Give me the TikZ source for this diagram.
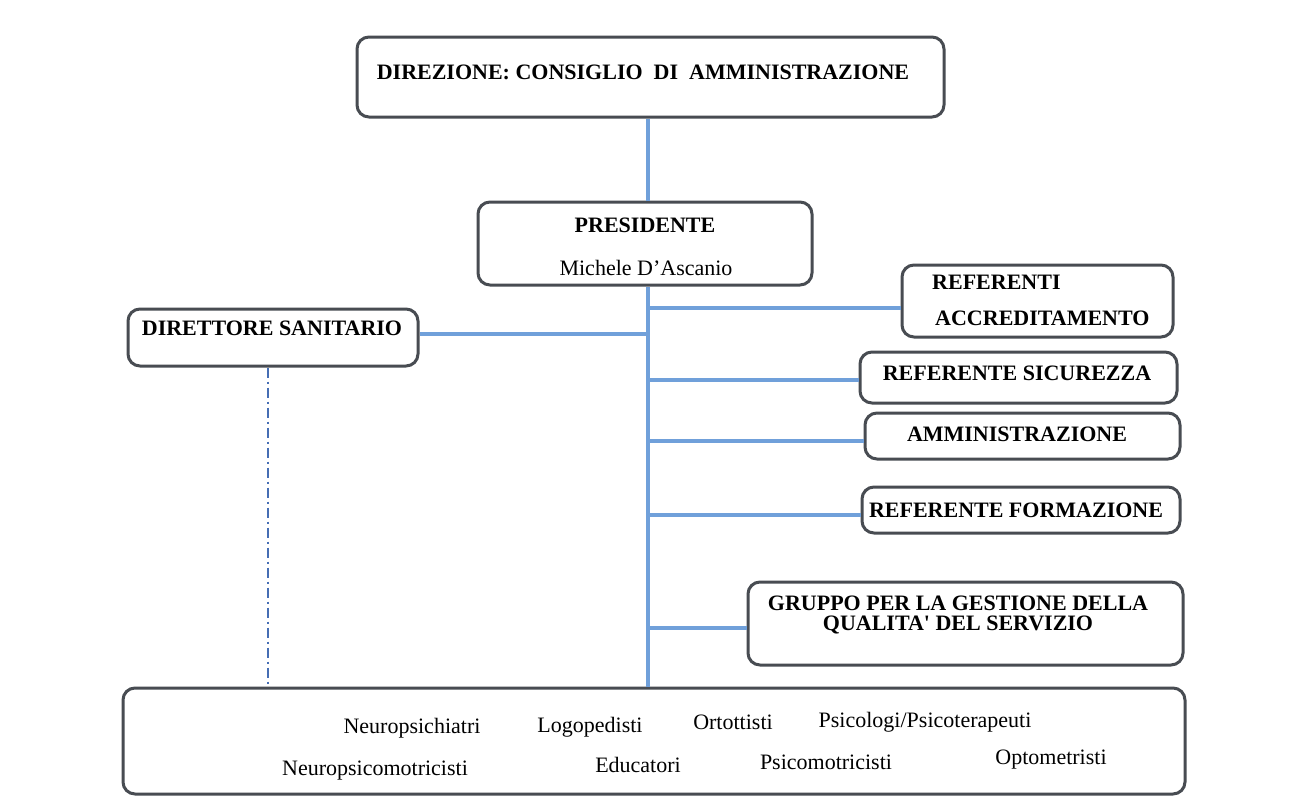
\documentclass[tikz,border=0pt]{standalone}
\usepackage{fontspec}
\setmainfont{Liberation Serif}
\definecolor{boxgray}{RGB}{72,76,82}
\definecolor{linkblue}{RGB}{112,160,218}
\definecolor{dashblue}{RGB}{70,110,180}

\begin{document}
\begin{tikzpicture}[x=1pt,y=1pt,yscale=-1,
  box/.style={draw=boxgray,line width=3pt,rounded corners=12pt,fill=white,inner sep=0pt},
  link/.style={draw=linkblue,line width=4pt},
  dashdotline/.style={draw=dashblue,line width=2pt,dash pattern={on 10pt off 4pt on 2pt off 4pt}},
  head/.style={font=\fontsize{22}{20}\selectfont\bfseries,inner sep=0pt,align=center},
  staff/.style={font=\fontsize{22}{22}\selectfont,inner sep=0pt,anchor=base}]
                \useasboundingbox (0,0) rectangle (1289,809);
                \fill[white] (0,0) rectangle (1289,809);
                \coordinate (trunk) at (648,0);
                \coordinate (side) at (268,0);
                \node[box,minimum width=587pt,minimum height=80pt] (dir) at (650.5,77) {};
                \node[box,minimum width=334pt,minimum height=83pt] (pres) at (645,243.5) {};
                \node[box,minimum width=271pt,minimum height=72pt] (refacc) at (1037.5,301) {};
                \node[box,minimum width=290pt,minimum height=57pt] (dirsan) at (273,337.5) {};
                \node[box,minimum width=317pt,minimum height=51pt] (sic) at (1018.5,377.5) {};
                \node[box,minimum width=315pt,minimum height=46pt] (amm) at (1022.5,436) {};
                \node[box,minimum width=318pt,minimum height=46pt] (form) at (1021,510) {};
                \node[box,minimum width=435pt,minimum height=83pt] (gruppo) at (965.5,623.5) {};
                \node[box,minimum width=1062pt,minimum height=106pt] (team) at (654,741) {};
                \draw[link] (dir.south -| trunk) -- (pres.north -| trunk);
                \draw[link] (pres.south -| trunk) -- (team.north -| trunk);
                \draw[link] ([yshift=7pt]refacc.west -| trunk) -- ([yshift=7pt]refacc.west);
                \draw[link] ([yshift=-3.5pt]dirsan.east) -- ([yshift=-3.5pt]dirsan.east -| trunk);
                \draw[link] ([yshift=2.5pt]sic.west -| trunk) -- ([yshift=2.5pt]sic.west);
                \draw[link] ([yshift=5pt]amm.west -| trunk) -- ([yshift=5pt]amm.west);
                \draw[link] ([yshift=5pt]form.west -| trunk) -- ([yshift=5pt]form.west);
                \draw[link] ([yshift=4.5pt]gruppo.west -| trunk) -- ([yshift=4.5pt]gruppo.west);
                \draw[dashdotline] (dirsan.south -| side) -- (team.north -| side);
                \node[head] (dirtxt) at (643,72) {DIREZIONE: CONSIGLIO\ \ DI\ \ AMMINISTRAZIONE};
                \node[head] (prestxt) at (645,225) {PRESIDENTE};
                \node[inner sep=0pt,font=\fontsize{22}{22}\selectfont] (presname) at (646,268) {Michele D'Ascanio};
                \node[head,anchor=west] (reftxt) at (932,282) {REFERENTI};
                \node[head,anchor=west] (acctxt) at (935,318) {ACCREDITAMENTO};
                \node[head] (dirsantxt) at (272,328) {DIRETTORE SANITARIO};
                \node[head] (sictxt) at (1017,373) {REFERENTE SICUREZZA};
                \node[head] (ammtxt) at (1017,434) {AMMINISTRAZIONE};
                \node[head] (formtxt) at (1016,510) {REFERENTE FORMAZIONE};
                \node[head] (gruppotxt) at (958,615) {GRUPPO PER LA GESTIONE DELLA\\QUALITA\textquotesingle{} DEL SERVIZIO};
                \node[staff] (neuro) at (412,733) {Neuropsichiatri};
                \node[staff] (logo) at (590,732) {Logopedisti};
                \node[staff] (orto) at (733,729) {Ortottisti};
                \node[staff] (psico) at (925,727) {Psicologi/Psicoterapeuti};
                \node[staff] (npm) at (375,775) {Neuropsicomotricisti};
                \node[staff] (edu) at (638,772) {Educatori};
                \node[staff] (pm) at (826,769) {Psicomotricisti};
                \node[staff] (opto) at (1051,764) {Optometristi};
            \end{tikzpicture}
\end{document}
